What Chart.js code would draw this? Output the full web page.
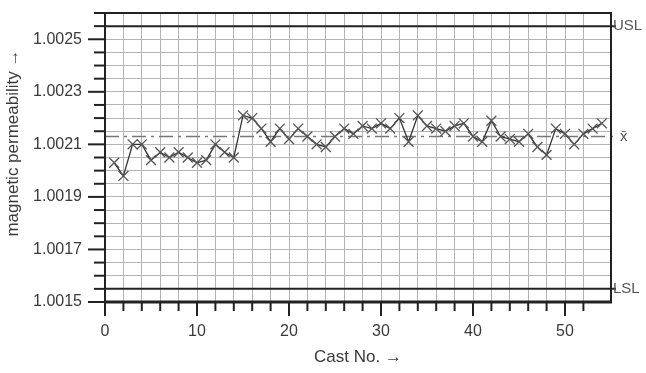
<!DOCTYPE html>
<html>
<head>
<meta charset="utf-8">
<script src="https://cdn.jsdelivr.net/npm/chart.js@4/dist/chart.umd.min.js"></script>
<style>
  html, body { margin: 0; padding: 0; background: #fff; }
  #wrap { width: 646px; height: 373px; }
</style>
</head>
<body>
<div id="wrap"><canvas id="spcChart" width="646" height="373"></canvas></div>
<script>
// cast numbers and measured permeability per cast
const castNo = [1, 2, 3, 4, 5, 6, 7, 8, 9, 10, 11, 12, 13, 14, 15, 16, 17, 18,
    19, 20, 21, 22, 23, 24, 25, 26, 27, 28, 29, 30, 31, 32, 33, 34, 35, 36,
    37, 38, 39, 40, 41, 42, 43, 44, 45, 46, 47, 48, 49, 50, 51, 52, 53, 54];
const permeability = [
    1.00203, 1.00198, 1.00210, 1.00210, 1.00204, 1.00207, 1.00205, 1.00207, 1.00205, 1.00203,
    1.00204, 1.00210, 1.00207, 1.00205, 1.00221, 1.00220, 1.00216, 1.00211, 1.00216, 1.00212,
    1.00216, 1.00213, 1.00210, 1.00209, 1.00213, 1.00216, 1.00214, 1.00217, 1.00216, 1.00218,
    1.00216, 1.00220, 1.00211, 1.00221, 1.00217, 1.00216, 1.00215, 1.00217, 1.00218, 1.00213,
    1.00211, 1.00219, 1.00213, 1.00212, 1.00211, 1.00214, 1.00209, 1.00206, 1.00216, 1.00214,
    1.00210, 1.00214, 1.00216, 1.00218
];

const limitNames = ["USL", "x\u0304", "LSL"];
const limitValues = [1.00255, 1.00213, 1.00155];

const xRange = [0, 55];
const yRange = [1.0015, 1.0026];
const xTickLabels = ["0", "10", "20", "30", "40", "50"];
const yTickLabels = ["1.0015", "1.0017", "1.0019", "1.0021", "1.0023", "1.0025"];
const yTitle = "magnetic permeability \u2192";

const textColor = "#3a3a3a";
const fontFamily = "'Liberation Sans', Arial, sans-serif";

function yLabel(value) {
    const s = value.toFixed(4);
    if (yTickLabels.includes(s) && Math.abs(value - Number(s)) < 1e-8) return s;
    return "";
}

function xLabel(value) {
    const s = String(value);
    return xTickLabels.includes(s) ? s : "";
}

// tick marks (long for labelled ticks), limit lines, frame, y title
const spcDecor = {
    id: "spcDecor",
    beforeDatasetsDraw(chart) {
        const ctx = chart.ctx;
        const area = chart.chartArea;
        const y = chart.scales.y;
        ctx.save();
        limitValues.forEach((v, i) => {
            const py = y.getPixelForValue(v);
            ctx.beginPath();
            if (limitNames[i] === "x\u0304") {
                ctx.strokeStyle = "#777";
                ctx.lineWidth = 1.3;
                ctx.setLineDash([14, 5, 3, 5]);
            } else {
                ctx.strokeStyle = "#222";
                ctx.lineWidth = 2;
                ctx.setLineDash([]);
            }
            ctx.moveTo(area.left, py);
            ctx.lineTo(area.right + 5, py);
            ctx.stroke();
        });
        ctx.restore();
    },
    afterDraw(chart) {
        const ctx = chart.ctx;
        const area = chart.chartArea;
        const x = chart.scales.x;
        const y = chart.scales.y;
        ctx.save();
        ctx.strokeStyle = "#222";
        ctx.setLineDash([]);

        // y ticks
        ctx.lineWidth = 2;
        y.ticks.forEach((t, i) => {
            const py = y.getPixelForTick(i);
            const len = yLabel(t.value) ? 17 : 11;
            ctx.beginPath();
            ctx.moveTo(area.left - len, py);
            ctx.lineTo(area.left, py);
            ctx.stroke();
        });
        // x ticks
        x.ticks.forEach((t, i) => {
            if (t.value % 2 !== 0) return;
            const px = x.getPixelForTick(i);
            const len = xLabel(t.value) ? 14 : 9;
            ctx.beginPath();
            ctx.moveTo(px, area.bottom);
            ctx.lineTo(px, area.bottom + len);
            ctx.stroke();
        });

        // frame
        ctx.lineWidth = 2;
        ctx.strokeRect(area.left, area.top, area.right - area.left, area.bottom - area.top);
        ctx.lineWidth = 3;
        ctx.beginPath();
        ctx.moveTo(area.left - 1, area.bottom);
        ctx.lineTo(area.right + 1, area.bottom);
        ctx.stroke();

        // limit labels on the right
        ctx.fillStyle = "#555";
        ctx.font = "15px " + fontFamily;
        ctx.textBaseline = "middle";
        ctx.textAlign = "left";
        limitValues.forEach((v, i) => {
            const py = y.getPixelForValue(v);
            ctx.fillText(limitNames[i], area.right + (limitNames[i] === "x\u0304" ? 9 : 2), py);
        });

        // y axis title, a little above the centre as in the source
        ctx.fillStyle = textColor;
        ctx.font = "17px " + fontFamily;
        ctx.textAlign = "center";
        ctx.translate(13, area.top + (area.bottom - area.top) * 0.45);
        ctx.rotate(-Math.PI / 2);
        ctx.fillText(yTitle, 0, 0);
        ctx.restore();
    }
};

Chart.defaults.font.family = fontFamily;
Chart.defaults.color = textColor;

new Chart(document.getElementById("spcChart"), {
    type: "line",
    data: {
        datasets: [{
            label: "magnetic permeability",
            data: castNo.map((c, i) => ({ x: c, y: permeability[i] })),
            borderColor: "#333",
            borderWidth: 1.3,
            pointStyle: "crossRot",
            pointRadius: 7,
            pointBorderColor: "#555",
            pointBorderWidth: 1.3,
            tension: 0,
            fill: false
        }]
    },
    plugins: [spcDecor],
    options: {
        responsive: false,
        animation: false,
        layout: { padding: { top: 13, right: 35, bottom: 0, left: 0 } },
        plugins: {
            legend: { display: false },
            tooltip: { enabled: false }
        },
        scales: {
            x: {
                type: "linear",
                min: xRange[0],
                max: xRange[1],
                afterFit(scale) { scale.height = 71; },
                border: { display: false },
                grid: { color: "#b4b4b4", lineWidth: 1, drawTicks: false },
                ticks: {
                    stepSize: 2,
                    autoSkip: false,
                    maxRotation: 0,
                    padding: 20,
                    font: { size: 16 },
                    color: textColor,
                    callback: (v) => xLabel(v)
                },
                title: {
                    display: true,
                    text: "Cast No. \u2192",
                    font: { size: 17 },
                    color: textColor,
                    padding: { top: 0, bottom: 5 }
                }
            },
            y: {
                type: "linear",
                min: yRange[0],
                max: yRange[1],
                afterFit(scale) {
                    scale.width = 105;
                    scale.paddingTop = 0;
                    scale.paddingBottom = 0;
                },
                border: { display: false },
                grid: { color: "#b4b4b4", lineWidth: 1, drawTicks: false },
                ticks: {
                    stepSize: 0.00005,
                    autoSkip: false,
                    padding: 23,
                    font: { size: 16 },
                    color: textColor,
                    callback: (v) => yLabel(v)
                },
                title: { display: false }
            }
        }
    }
});
</script>
</body>
</html>
